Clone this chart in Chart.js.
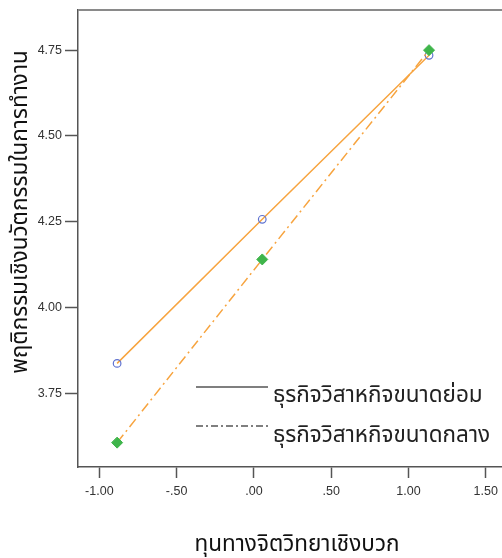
<!DOCTYPE html>
<html>
<head>
<meta charset="utf-8">
<script src="https://cdn.jsdelivr.net/npm/chart.js@4.4.1/dist/chart.umd.min.js"></script>
<style>
  html, body { margin: 0; padding: 0; background: #fff; }
  #wrap { width: 502px; height: 558px; }
</style>
</head>
<body>
<div id="wrap"><canvas id="plot" width="502" height="558"></canvas></div>
<script>
// values
const xValues = [-0.885, 0.054, 1.133]
const smallFirm = [3.837, 4.257, 4.735]
const mediumFirm = [3.606, 4.140, 4.750]
const seriesNames = ['ธุรกิจวิสาหกิจขนาดย่อม', 'ธุรกิจวิสาหกิจขนาดกลาง']
const xTicks = [-1.0, -0.5, 0.0, 0.5, 1.0, 1.5]
const yTicks = [3.75, 4.0, 4.25, 4.5, 4.75]
const xTitle = 'ทุนทางจิตวิทยาเชิงบวก'
const yTitle = 'พฤติกรรมเชิงนวัตกรรมในการทำงาน'

const thaiFont = 'Tahoma, "Noto Sans Thai", Loma, Garuda, "DejaVu Sans", sans-serif'
const orange = '#f7a43f'

// SPSS style numbers: -.50, .00, 1.00
function spss(v) {
  let s = v.toFixed(2)
  return s.replace(/^(-?)0\./, '$1.')
}

const toPoints = (ys) => xValues.map((x, i) => ({ x: x, y: ys[i] }))

const extras = {
  id: 'extras',
  afterDraw(chart) {
    const ctx = chart.ctx
    const a = chart.chartArea
    ctx.save()
    // top frame line
    ctx.strokeStyle = '#8a8a8a'
    ctx.lineWidth = 2
    ctx.beginPath()
    ctx.moveTo(a.left, a.top)
    ctx.lineTo(chart.width, a.top)
    ctx.stroke()

    // legend inside the plot, bottom right
    const lx = a.left + 118, lw = 72
    ctx.strokeStyle = '#555'
    ctx.lineWidth = 1.5
    ctx.beginPath()
    ctx.moveTo(lx, a.bottom - 80)
    ctx.lineTo(lx + lw, a.bottom - 80)
    ctx.stroke()
    ctx.setLineDash([7, 3, 2, 3])
    ctx.beginPath()
    ctx.moveTo(lx, a.bottom - 41)
    ctx.lineTo(lx + lw, a.bottom - 41)
    ctx.stroke()
    ctx.setLineDash([])
    ctx.fillStyle = '#222'
    ctx.font = '22.5px ' + thaiFont
    ctx.textAlign = 'left'
    ctx.textBaseline = 'middle'
    ctx.fillText(seriesNames[0], lx + lw + 5, a.bottom - 70)
    ctx.fillText(seriesNames[1], lx + lw + 5, a.bottom - 30)

    // axis titles
    ctx.fillStyle = '#111'
    ctx.textAlign = 'center'
    ctx.fillText(xTitle, 297, 546)
    ctx.translate(22, 212)
    ctx.rotate(-Math.PI / 2)
    ctx.fillText(yTitle, 0, 0)
    ctx.restore()
  }
}

new Chart(document.getElementById('plot'), {
  type: 'scatter',
  data: {
    datasets: [{
      label: seriesNames[0],
      data: toPoints(smallFirm),
      showLine: true,
      order: 1,
      borderColor: orange,
      borderWidth: 1.5,
      pointStyle: 'circle',
      pointRadius: 3.8,
      pointBorderWidth: 1.2,
      pointBorderColor: '#5f72d0',
      pointBackgroundColor: 'rgba(255,255,255,0)'
    }, {
      label: seriesNames[1],
      data: toPoints(mediumFirm),
      showLine: true,
      order: 0,
      borderColor: orange,
      borderWidth: 1.5,
      borderDash: [10, 4, 2, 4],
      pointStyle: 'rectRot',
      pointRadius: 5.5,
      pointBorderWidth: 1,
      pointBorderColor: '#3fb54b',
      pointBackgroundColor: '#3fb54b'
    }]
  },
  options: {
    responsive: false,
    animation: false,
    devicePixelRatio: 1,
    layout: { autoPadding: false, padding: { top: 10, right: 0, left: 0, bottom: 0 } },
    plugins: {
      legend: { display: false },
      tooltip: { enabled: false }
    },
    scales: {
      x: {
        type: 'linear',
        min: -1.138,
        max: 1.605,
        afterBuildTicks: (s) => { s.ticks = xTicks.map((v) => ({ value: v })) },
        afterFit: (s) => { s.height = 91; s.paddingLeft = 0; s.paddingRight = 0 },
        grid: { drawOnChartArea: false, drawTicks: true, tickLength: 11, tickColor: '#555', tickWidth: 1.5 },
        border: { display: true, color: '#555', width: 1.5 },
        ticks: {
          padding: 6,
          color: '#333',
          font: { family: 'Arial, "Liberation Sans", sans-serif', size: 12.5 },
          callback: (v) => spss(v),
          maxRotation: 0
        }
      },
      y: {
        type: 'linear',
        min: 3.535,
        max: 4.867,
        afterBuildTicks: (s) => { s.ticks = yTicks.map((v) => ({ value: v })) },
        afterFit: (s) => { s.width = 78; s.paddingTop = 0; s.paddingBottom = 0 },
        grid: { drawOnChartArea: false, drawTicks: true, tickLength: 13, tickColor: '#555', tickWidth: 1.5 },
        border: { display: true, color: '#555', width: 1.5 },
        ticks: {
          padding: 3,
          color: '#333',
          font: { family: 'Arial, "Liberation Sans", sans-serif', size: 12.5 },
          callback: (v) => spss(v)
        }
      }
    }
  },
  plugins: [extras]
})
</script>
</body>
</html>
